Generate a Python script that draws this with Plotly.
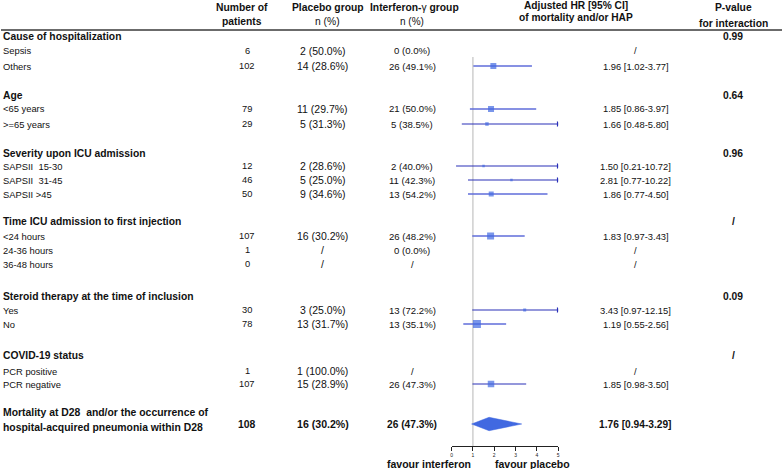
import plotly.graph_objects as go

# ---------------- data ----------------
sections = ["Cause of hospitalization", "Age", "Severity upon ICU admission",
            "Time ICU admission to first injection",
            "Steroid therapy at the time of inclusion", "COVID-19 status"]
p_values = ["0.99", "0.64", "0.96", "/", "0.09", "/"]

sub_labels = [["Sepsis", "Others"],
              ["<65 years", ">=65 years"],
              ["SAPSII  15-30", "SAPSII  31-45", "SAPSII >45"],
              ["<24 hours", "24-36 hours", "36-48 hours"],
              ["Yes", "No"],
              ["PCR positive", "PCR negative"]]
n_patients = [[6, 102], [79, 29], [12, 46, 50], [107, 1, 0], [30, 78], [1, 107]]
placebo = [["2 (50.0%)", "14 (28.6%)"],
           ["11 (29.7%)", "5 (31.3%)"],
           ["2 (28.6%)", "5 (25.0%)", "9 (34.6%)"],
           ["16 (30.2%)", "/", "/"],
           ["3 (25.0%)", "13 (31.7%)"],
           ["1 (100.0%)", "15 (28.9%)"]]
interferon = [["0 (0.0%)", "26 (49.1%)"],
              ["21 (50.0%)", "5 (38.5%)"],
              ["2 (40.0%)", "11 (42.3%)", "13 (54.2%)"],
              ["26 (48.2%)", "0 (0.0%)", "/"],
              ["13 (72.2%)", "13 (35.1%)"],
              ["/", "26 (47.3%)"]]
hr_est = [[None, 1.96], [1.85, 1.66], [1.50, 2.81, 1.86], [1.83, None, None], [3.43, 1.19], [None, 1.85]]
hr_lo = [[None, 1.02], [0.86, 0.48], [0.21, 0.77, 0.77], [0.97, None, None], [0.97, 0.55], [None, 0.98]]
hr_hi = [[None, 3.77], [3.97, 5.80], [10.72, 10.22, 4.50], [3.43, None, None], [12.15, 2.56], [None, 3.50]]
weights = [[None, 6], [6, 3.5], [2.5, 2.5, 5], [7, None, None], [3, 8], [None, 6.5]]

overall_label = ["Mortality at D28  and/or the occurrence of",
                 "hospital-acquired pneumonia within D28"]
overall_n = 108
overall_placebo = "16 (30.2%)"
overall_interferon = "26 (47.3%)"
overall_est, overall_lo, overall_hi = 1.76, 0.94, 3.29

axis_ticks = [0, 1, 2, 3, 4, 5]
x_max = 5

# ---------------- layout (pixel positions) ----------------
W, H = 784, 469
header_y = [37, 95, 153, 222, 296, 355]
sub_y = [[51, 66], [109, 124], [166, 180, 194], [236, 250, 264], [310, 324], [371, 384]]
overall_text_y = [412, 427]
overall_y = 424
axis_y = 446
rule_y = 30
dark_rows = {(1, 1), (2, 0), (2, 1), (4, 0), (5, 1)}

col_n, col_pl, col_if, col_hr, col_p = 247, 323, 413, 637, 735
FONT = "Liberation Sans, Arial, sans-serif"
TXT = "#111111"

fig = go.Figure()

def px(x):
    return x / W

def py(y):
    return 1 - y / H

annots = []

def add_text(x, y, text, size=9.5, bold=False, anchor="center", color=TXT):
    t = f"<b>{text}</b>" if bold else text
    annots.append(dict(x=px(x), y=py(y), xref="paper", yref="paper", text=t,
                       showarrow=False, xanchor=anchor, yanchor="middle",
                       borderpad=0, font=dict(family=FONT, size=size, color=color)))

# headers
add_text(242, 8, "Number of", 10.3, True)
add_text(242, 22, "patients", 10.3, True)
add_text(328, 8, "Placebo group", 10.3, True)
add_text(328, 22, "n (%)", 10.3)
add_text(415, 8, "<b>Interferon-</b>γ<b> group</b>", 10.3)
add_text(413, 22, "n (%)", 10)
add_text(577, 5, "Adjusted HR [95% CI]", 10.2, True)
add_text(577, 18, "of mortality and/or HAP", 10.2, True)
add_text(735, 8, "P-value", 10.3, True)
add_text(735, 23, "for interaction", 10.3, True)

light_x, light_y, dark_x, dark_y = [], [], [], []
sq_x, sq_y, sq_s = [], [], []
arr_x, arr_y = [], []

for g, sec in enumerate(sections):
    add_text(1, header_y[g], sec, 10.3, True, "left")
    add_text(col_p, header_y[g], p_values[g], 10.3, True)
    for i, lab in enumerate(sub_labels[g]):
        y = sub_y[g][i]
        add_text(1, y, lab, 9.4, False, "left")
        add_text(col_n, y, str(n_patients[g][i]), 9.3)
        add_text(col_pl, y, placebo[g][i], 10.5)
        add_text(col_if, y, interferon[g][i], 9.6)
        est = hr_est[g][i]
        if est is None:
            add_text(col_hr, y, "/", 9.4)
            continue
        lo, hi = hr_lo[g][i], hr_hi[g][i]
        add_text(col_hr, y, f"{est:.2f} [{lo:.2f}-{hi:.2f}]", 9.4)
        xs, ys = (dark_x, dark_y) if (g, i) in dark_rows else (light_x, light_y)
        xs += [lo, min(hi, x_max), None]
        ys += [y, y, None]
        if hi > x_max:
            arr_x.append(x_max)
            arr_y.append(y)
        sq_x.append(est)
        sq_y.append(y)
        sq_s.append(weights[g][i])

# overall row
add_text(1, overall_text_y[0], overall_label[0], 10.4, True, "left")
add_text(1, overall_text_y[1], overall_label[1], 10.4, True, "left")
add_text(col_n, overall_y, str(overall_n), 10.4, True)
add_text(col_pl, overall_y, overall_placebo, 10.6, True)
add_text(col_if, overall_y, overall_interferon, 10.2, True)
add_text(col_hr, overall_y,
         f"{overall_est:.2f} [{overall_lo:.2f}-{overall_hi:.2f}]", 10.2, True)

add_text(430, 464, "favour interferon", 10.5, True)
add_text(534, 464, "favour placebo", 10.5, True)

# reference line at HR = 1
fig.add_trace(go.Scatter(x=[1, 1], y=[57, axis_y], mode="lines",
                         line=dict(color="#cfcfcf", width=1.5),
                         hoverinfo="skip", showlegend=False))
fig.add_trace(go.Scatter(x=light_x, y=light_y, mode="lines",
                         line=dict(color="#5f6dda", width=1.6),
                         hoverinfo="skip", showlegend=False))
fig.add_trace(go.Scatter(x=dark_x, y=dark_y, mode="lines",
                         line=dict(color="#2a30b8", width=1.2),
                         hoverinfo="skip", showlegend=False))
fig.add_trace(go.Scatter(x=arr_x, y=arr_y, mode="markers",
                         marker=dict(symbol="triangle-right", size=5, color="#2a30b8",
                                     line=dict(width=0)),
                         hoverinfo="skip", showlegend=False))
fig.add_trace(go.Scatter(x=sq_x, y=sq_y, mode="markers",
                         marker=dict(symbol="square", size=sq_s, color="#4169e1",
                                     line=dict(width=0)),
                         hoverinfo="skip", showlegend=False))
# overall diamond
dh = 6.7
fig.add_trace(go.Scatter(x=[overall_lo, overall_est, overall_hi, overall_est, overall_lo],
                         y=[overall_y, overall_y - dh, overall_y, overall_y + dh, overall_y],
                         mode="lines", fill="toself", fillcolor="#4169e1",
                         line=dict(color="#4169e1", width=0.5),
                         hoverinfo="skip", showlegend=False))

fig.update_layout(
    width=W, height=H, margin=dict(l=0, r=0, t=0, b=0),
    paper_bgcolor="white", plot_bgcolor="rgba(0,0,0,0)",
    annotations=annots,
    shapes=[dict(type="line", xref="paper", yref="paper", x0=0, x1=1,
                 y0=py(rule_y), y1=py(rule_y), layer="above",
                 line=dict(color="#6b6b6b", width=2))],
    xaxis=dict(domain=[452.3 / W, 559.3 / W], range=[0, x_max], showgrid=False,
               zeroline=False, showline=True, linecolor="#222", linewidth=1,
               ticks="outside", ticklen=4, tickcolor="#222", tickwidth=1,
               tickvals=axis_ticks, ticktext=[str(t) for t in axis_ticks],
               tickfont=dict(family=FONT, size=5, color="#222"), fixedrange=True),
    yaxis=dict(domain=[(H - axis_y) / H, 1], range=[axis_y, 0], visible=False,
               fixedrange=True),
    showlegend=False,
)

fig.write_html("out.html", config={"displayModeBar": False, "staticPlot": True},
               post_script="document.body.style.margin='0';document.body.style.overflow='hidden';")
